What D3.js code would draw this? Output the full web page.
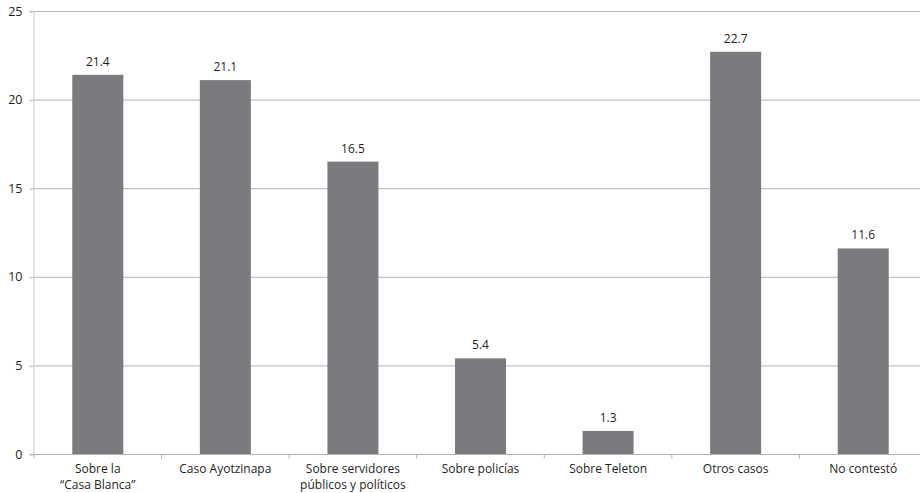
<!DOCTYPE html>
<html><head><meta charset="utf-8">
<script src="https://cdn.jsdelivr.net/npm/d3@7"></script>
<style>body{margin:0;background:#fff}svg{display:block}text{font-family:"Open Sans","Noto Sans",sans-serif;fill:#231f20}</style>
</head><body><div id="c"></div>
<script>
const categories = [["Sobre la","“Casa Blanca”"],["Caso Ayotzinapa"],["Sobre servidores","públicos y políticos"],["Sobre policías"],["Sobre Teleton"],["Otros casos"],["No contestó"]];
const values = [21.4, 21.1, 16.5, 5.4, 1.3, 22.7, 11.6];
const labels = ["21.4","21.1","16.5","5.4","1.3","22.7","11.6"];
const yTicks = [0,5,10,15,20,25];

const W=920,H=493;
const svg=d3.select("#c").append("svg").attr("width",W).attr("height",H);
const x=d3.scaleBand().domain(d3.range(values.length)).range([34,927]).paddingInner(0.6).paddingOuter(0.3);
const y=d3.scaleLinear().domain([0,25]).range([454,11]);

// gridlines
svg.append("g").selectAll("line").data(yTicks.filter(d=>d>0)).join("line")
  .attr("x1",34).attr("x2",927).attr("y1",d=>y(d)+0.5).attr("y2",d=>y(d)+0.5)
  .attr("stroke","#b3b3b3").attr("stroke-width",1);

// y axis
const ya=svg.append("g").attr("transform","translate(33.5,0)")
  .call(d3.axisLeft(y).tickValues(yTicks).tickSize(4).tickPadding(7).tickFormat(d3.format("d")));
ya.select(".domain").attr("stroke","#c8c8c8");
ya.selectAll(".tick line").attr("stroke","#b3b3b3").attr("transform","translate(0,0.5)");
ya.selectAll(".tick text").attr("font-size",12.5).attr("fill","#231f20").attr("font-family","'Open Sans',sans-serif");

// bars
svg.append("g").selectAll("rect").data(values).join("rect")
  .attr("x",(d,i)=>x(i)).attr("width",x.bandwidth())
  .attr("y",d=>y(d)).attr("height",d=>y(0)-y(d)).attr("fill","#7b7b7f");

// x axis
const xa=svg.append("g").attr("transform","translate(0,454.5)");
xa.append("line").attr("x1",34).attr("x2",927).attr("stroke","#b3b3b3");
xa.selectAll("line.t").data(d3.range(values.length+1)).join("line").attr("class","t")
  .attr("x1",i=>34+i*x.step()).attr("x2",i=>34+i*x.step()).attr("y1",0).attr("y2",4).attr("stroke","#b3b3b3");

// category labels (one text per line)
const lines = categories.flatMap((d,i)=>d.map((s,j)=>({i,j,s})));
svg.append("g").selectAll("text").data(lines).join("text")
  .attr("x",d=>x(d.i)+x.bandwidth()/2).attr("y",d=>473+d.j*16).attr("text-anchor","middle").attr("font-size",12)
  .text(d=>d.s);

// value labels
svg.append("g").selectAll("text").data(values).join("text")
  .attr("x",(d,i)=>x(i)+x.bandwidth()/2).attr("y",d=>y(d)-9).attr("text-anchor","middle").attr("font-size",12)
  .text((d,i)=>labels[i]);
</script></body></html>
